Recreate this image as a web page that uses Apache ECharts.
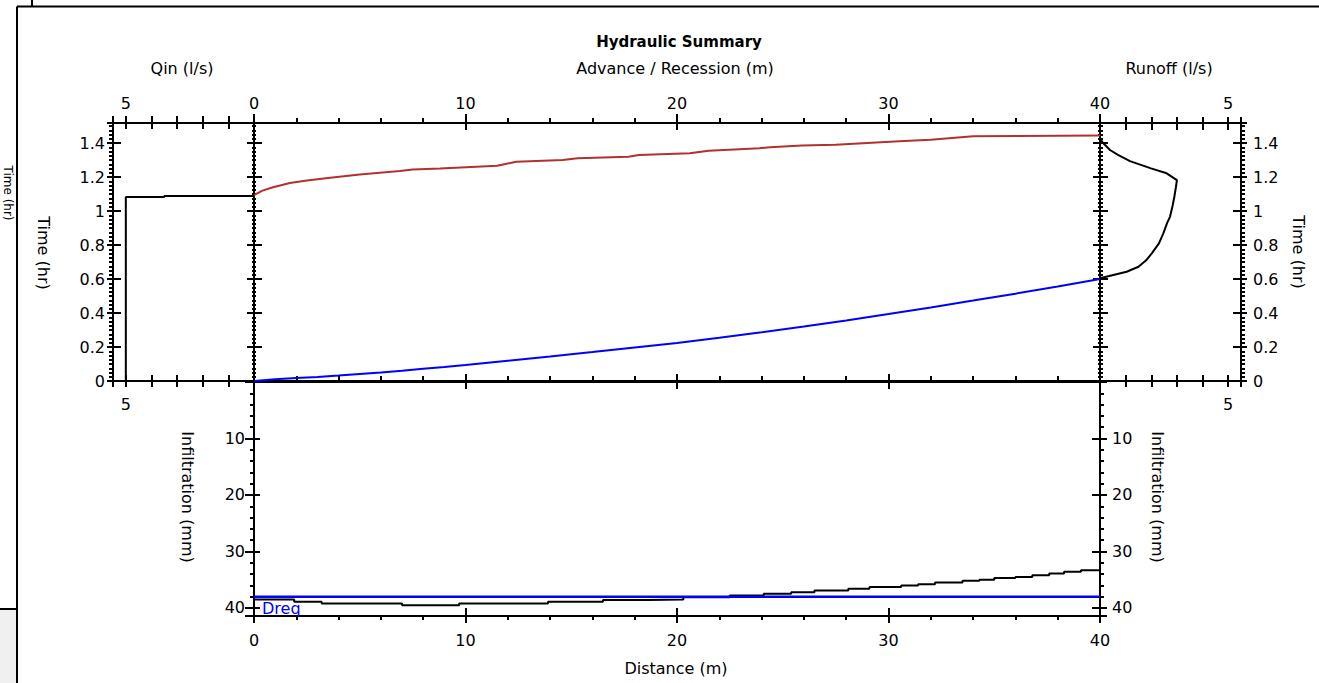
<!DOCTYPE html>
<html>
<head>
<meta charset="utf-8">
<script src="https://cdn.jsdelivr.net/npm/echarts@6/dist/echarts.min.js"></script>
<style>
html,body{margin:0;padding:0;background:#fff;}
#chart{width:1319px;height:683px;}
</style>
</head>
<body>
<div id="chart"></div>
<script>
// ---------------- DATA ----------------
// Inflow hydrograph: Qin (l/s) vs time (hr)
const qinFlow = [5.0, 5.0, 3.5, 3.5, 0];
const qinTime = [0, 1.082, 1.082, 1.088, 1.088];

// Advance front: distance (m) vs time (hr)
const advDist = [0, 1, 2, 3, 4, 5, 6, 7, 8, 9, 10, 12, 14, 16, 18, 20, 22, 24, 26, 28, 30, 32, 34, 36, 38, 40];
const advTime = [0, 0.010, 0.017, 0.024, 0.032, 0.041, 0.050, 0.060, 0.072, 0.082, 0.094, 0.119, 0.144, 0.170, 0.197, 0.224, 0.255, 0.287, 0.320, 0.356, 0.394, 0.433, 0.473, 0.514, 0.556, 0.600];

// Recession front: distance (m) vs time (hr)
const recDist = [0, 0.4, 0.9, 1.7, 2.5, 3.5, 5, 6.9, 7.5, 8.8, 11.5, 12.0, 12.4, 14.6, 15.3, 17.7, 18.2, 20.6, 21.5, 23.9, 24.4, 25.9, 27.5, 29, 30.5, 32, 33, 34, 40];
const recTime = [1.094, 1.12, 1.14, 1.165, 1.18, 1.195, 1.215, 1.235, 1.245, 1.25, 1.266, 1.28, 1.29, 1.30, 1.31, 1.32, 1.33, 1.34, 1.355, 1.37, 1.375, 1.385, 1.39, 1.40, 1.41, 1.42, 1.43, 1.44, 1.445];

// Runoff hydrograph: runoff (l/s) vs time (hr)
const runFlow = [0, 0.52, 1.04, 1.5, 1.8, 2.02, 2.3, 2.47, 2.62, 2.73, 2.83, 2.9, 2.96, 3.0, 2.6, 1.99, 1.17, 0.7, 0.39, 0.12, 0];
const runTime = [0.604, 0.624, 0.643, 0.672, 0.71, 0.751, 0.81, 0.869, 0.93, 0.966, 1.03, 1.084, 1.14, 1.182, 1.222, 1.251, 1.294, 1.33, 1.359, 1.40, 1.428];

// Infiltrated depth along the field (step profile): distance (m) vs depth (mm)
const infDist  = [0, 1.9, 3.2, 7.0, 9.7, 13.9, 16.5, 18.6, 20.3, 22.5, 24.1, 25.4, 26.5, 28.1, 29.1, 30.6, 31.4, 32.2, 33.5, 34.3, 35.0, 36.0, 36.8, 37.6, 38.3, 39.1, 40];
const infDepth = [38.5, 38.9, 39.2, 39.5, 39.2, 38.9, 38.6, 38.5, 38.1, 37.8, 37.5, 37.2, 36.9, 36.6, 36.3, 36.0, 35.8, 35.5, 35.2, 35.0, 34.7, 34.5, 34.2, 33.9, 33.6, 33.3, 33.3];

// Required depth
const dreqDist = [0, 40];
const dreqDepth = [38, 38];

// Axis extents
const timeMax = 1.518, qMax = 5.5, distMax = 40, infMax = 41.42;

// ---------------- CHART ----------------
const F = 'DejaVu Sans';
const TICK = {color:'#000', width:2};
const LBL = {color:'#000', fontFamily:F, fontSize:16};
const zip = (a, b) => a.map((v, i) => [v, b[i]]);

function axis(o) {
  return {
    type:'value', gridIndex:o.g, position:o.pos, min:o.min, max:o.max, interval:o.int,
    inverse:!!o.inv, offset:o.off || 0,
    axisLine:{show:false, onZero:false},
    splitLine:{show:false}, minorTick:{show:false}, minorSplitLine:{show:false},
    axisTick:{show:true, inside:!!o.inside, length:o.len, lineStyle:TICK},
    axisLabel: o.fmt ? Object.assign({show:true, margin:o.m, formatter:o.fmt}, LBL) : {show:false},
    axisPointer:{show:false}, silent:true
  };
}
const only5 = v => (Math.abs(v - 5) < 1e-6 ? '5' : '');
const timeFmt = v => (v > 1.45 ? '' : String(Math.round(v * 10) / 10));
const distFmt = v => (v <= 40 ? String(Math.round(v)) : '');
const infFmt = v => (v >= 9 && v <= 40.5 ? String(Math.round(v)) : '');

const gridBase = {show:true, borderColor:'#000', borderWidth:2, backgroundColor:'transparent', containLabel:false, outerBoundsMode:'none'};
const grid = [
  Object.assign({left:113, top:123, width:141, height:258}, gridBase),   // Qin
  Object.assign({left:254, top:123, width:846, height:258}, gridBase),   // Advance / recession
  Object.assign({left:1100, top:123, width:141, height:258}, gridBase),  // Runoff
  Object.assign({left:254, top:382, width:846, height:234}, gridBase)    // Infiltration
];

const xAxis = [
  axis({g:0, pos:'top', min:0, max:qMax, int:1, inv:true, off:-6, len:13, fmt:only5, m:18}),        // 0
  axis({g:0, pos:'bottom', min:0, max:qMax, int:1, inv:true, off:-6, len:12, fmt:only5, m:21}),     // 1
  axis({g:1, pos:'top', min:0, max:distMax, int:10, off:-7, len:16, fmt:distFmt, m:19}),            // 2
  axis({g:1, pos:'top', min:0, max:distMax, int:2, len:5}),                                         // 3
  axis({g:1, pos:'bottom', min:0, max:distMax, int:10, off:-7, len:15}),                            // 4
  axis({g:1, pos:'bottom', min:0, max:distMax, int:2, inside:true, len:5}),                         // 5
  axis({g:2, pos:'top', min:0, max:qMax, int:1, off:-7, len:13, fmt:only5, m:19}),                  // 6
  axis({g:2, pos:'bottom', min:0, max:qMax, int:1, off:-6, len:12, fmt:only5, m:21}),               // 7
  axis({g:3, pos:'bottom', min:0, max:distMax, int:10, off:-8, len:15, fmt:distFmt, m:24}),         // 8
  axis({g:3, pos:'bottom', min:0, max:distMax, int:2, len:4})                                       // 9
];
const yAxis = [
  axis({g:0, pos:'left', min:0, max:timeMax, int:0.2, off:-8, len:14, fmt:timeFmt, m:16}),          // 0
  axis({g:0, pos:'left', min:0, max:timeMax, int:0.025, len:4}),                                    // 1
  axis({g:1, pos:'left', min:0, max:timeMax, int:0.2, off:-8, len:15}),                             // 2
  axis({g:1, pos:'left', min:0, max:timeMax, int:0.025, off:-2, len:4}),                            // 3
  axis({g:1, pos:'right', min:0, max:timeMax, int:0.2, off:-7, len:15}),                            // 4
  axis({g:1, pos:'right', min:0, max:timeMax, int:0.025, off:-2, len:5}),                           // 5
  axis({g:2, pos:'right', min:0, max:timeMax, int:0.2, off:-8, len:14, fmt:timeFmt, m:20}),         // 6
  axis({g:2, pos:'right', min:0, max:timeMax, int:0.025, len:4}),                                   // 7
  axis({g:3, pos:'left', min:0, max:infMax, int:10, inv:true, off:-6, len:15, fmt:infFmt, m:15}),   // 8
  axis({g:3, pos:'left', min:0, max:infMax, int:2, inv:true, len:4}),                               // 9
  axis({g:3, pos:'right', min:0, max:infMax, int:10, inv:true, off:-8, len:15, fmt:infFmt, m:20}),  // 10
  axis({g:3, pos:'right', min:0, max:infMax, int:2, inv:true, len:4})                               // 11
];

const lineBase = {type:'line', symbol:'none', showSymbol:false, silent:true, animation:false, z:3};
const series = [
  Object.assign({name:'Qin', xAxisIndex:0, yAxisIndex:0, data:zip(qinFlow, qinTime), lineStyle:{color:'#000', width:2}}, lineBase),
  Object.assign({name:'Advance', xAxisIndex:2, yAxisIndex:2, data:zip(advDist, advTime), lineStyle:{color:'#0000ff', width:2}}, lineBase),
  Object.assign({name:'Recession', xAxisIndex:2, yAxisIndex:2, data:zip(recDist, recTime), lineStyle:{color:'#b3302f', width:2}}, lineBase),
  Object.assign({name:'Runoff', xAxisIndex:6, yAxisIndex:6, data:zip(runFlow, runTime), smooth:false, lineStyle:{color:'#000', width:2}}, lineBase),
  Object.assign({name:'Infiltration', xAxisIndex:8, yAxisIndex:8, data:zip(infDist, infDepth), step:'end', lineStyle:{color:'#000', width:2}}, lineBase),
  Object.assign({name:'Dreq', xAxisIndex:8, yAxisIndex:8, data:zip(dreqDist, dreqDepth), lineStyle:{color:'#0000ff', width:2.5}}, lineBase)
];

function txt(text, x, y, opt) {
  opt = opt || {};
  return {
    type:'text', x:x, y:y, rotation:opt.rot || 0, silent:true, z:10,
    style:{text:text, fill:opt.color || '#000', font:(opt.bold ? 'bold ' : '') + (opt.size || 16) + 'px "' + F + '"',
           align:'center', verticalAlign:'middle', textAlign:'center', textVerticalAlign:'middle'}
  };
}
function ln(x1, y1, x2, y2, w) {
  return {type:'line', silent:true, z:10, shape:{x1:x1, y1:y1, x2:x2, y2:y2}, style:{stroke:'#000', lineWidth:w || 2}};
}
const R = -Math.PI / 2;
const graphic = [
  {type:'rect', silent:true, z:1, shape:{x:0, y:610, width:16, height:73}, style:{fill:'#f0f0f0'}},
  ln(17, 6.5, 1319, 6.5, 2),
  ln(17, 6.5, 17, 683, 2),
  ln(32, 0, 32, 6, 2),
  ln(0, 609, 17, 609, 2),
  txt('Time (hr)', 8, 193, {rot:R, size:12}),
  txt('Hydraulic Summary', 679, 42, {bold:true, size:15}),
  txt('Qin (l/s)', 182, 68),
  txt('Advance / Recession (m)', 675, 68),
  txt('Runoff (l/s)', 1169, 68),
  txt('Time (hr)', 43, 253, {rot:R}),
  txt('Time (hr)', 1298, 252, {rot:R}),
  txt('Infiltration (mm)', 187, 497, {rot:R}),
  txt('Infiltration (mm)', 1157, 497, {rot:R}),
  txt('Distance (m)', 676, 668),
  {type:'text', x:262, y:608, silent:true, z:10,
   style:{text:'Dreq', fill:'#0000ff', font:'16px "' + F + '"', align:'left', verticalAlign:'middle', textAlign:'left', textVerticalAlign:'middle'}}
];

const chart = echarts.init(document.getElementById('chart'), null, {renderer:'svg'});
chart.setOption({
  animation:false,
  backgroundColor:'#fff',
  textStyle:{fontFamily:F},
  grid:grid, xAxis:xAxis, yAxis:yAxis, series:series, graphic:graphic
});
</script>
</body>
</html>
